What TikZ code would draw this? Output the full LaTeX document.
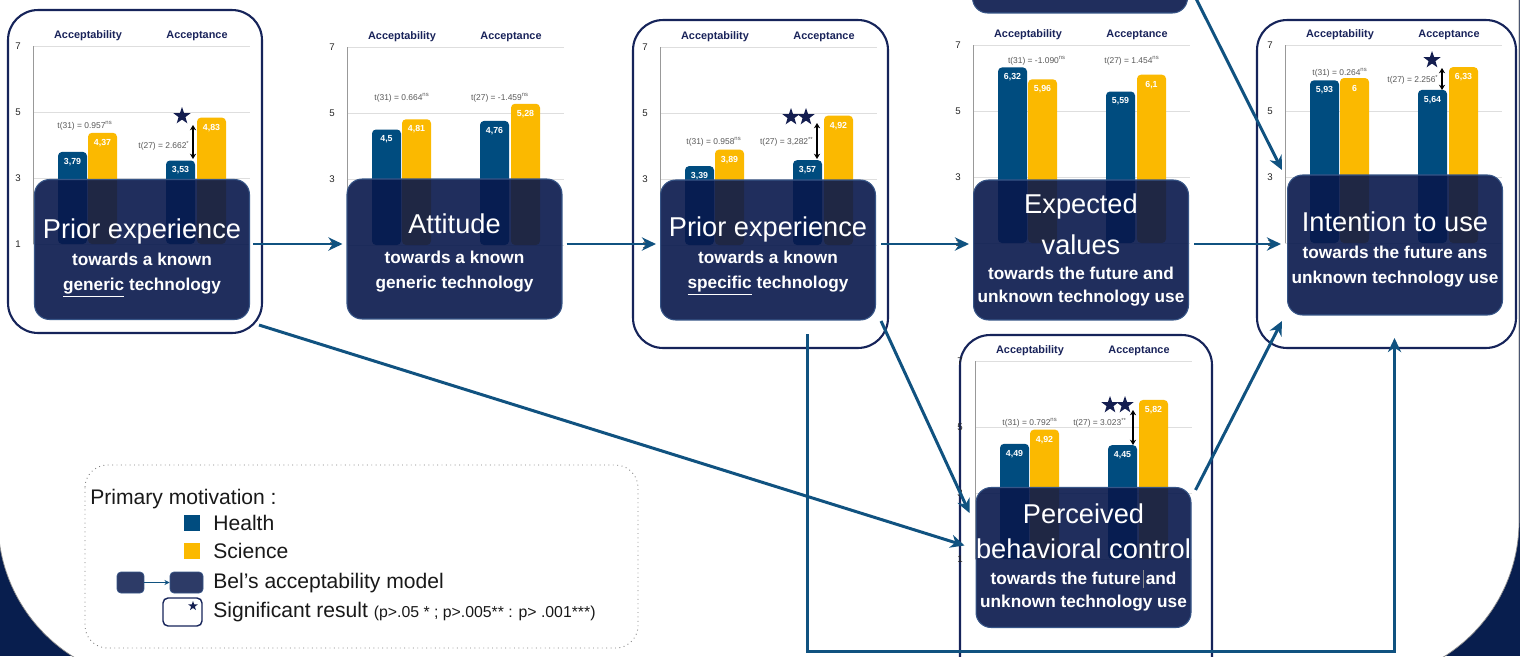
\documentclass[tikz,border=0pt]{standalone}
\usepackage{fontspec}
\setmainfont{Liberation Sans}
\usetikzlibrary{positioning,calc,arrows.meta,shapes.geometric}

\definecolor{bgnavy}{RGB}{8,30,78}
\definecolor{boxnavy}{RGB}{8,24,76}
\definecolor{boxedge}{RGB}{55,85,135}
\definecolor{health}{RGB}{0,76,127}
\definecolor{science}{RGB}{251,185,0}
\definecolor{flowblue}{RGB}{16,82,128}
\definecolor{framenavy}{RGB}{22,36,90}
\definecolor{headnavy}{RGB}{25,35,90}
\definecolor{starnavy}{RGB}{20,30,80}

\newcommand{\titlefont}{\fontsize{15.5}{18}\selectfont\mdseries}
\newcommand{\lift}[1]{\rule{0pt}{#1}}

\tikzset{
  chartframe/.style={draw=framenavy, line width=1.2pt, fill=white, rounded corners=0.6cm},
  stage/.style={fill=boxnavy, fill opacity=0.9, text opacity=1, draw=boxedge, line width=0.6pt,
    rounded corners=0.3cm, text=white, align=center, minimum width=4.3cm, minimum height=2.8cm,
    inner sep=0pt, font=\fontsize{9.8}{14.2}\selectfont\bfseries},
  gridline/.style={draw=black!13, line width=0.5pt},
  axisline/.style={draw=black!40, line width=0.5pt},
  axisnum/.style={font=\fontsize{5.5}{6}\selectfont, text=black!85, inner sep=0pt},
  charthead/.style={font=\fontsize{6.2}{7}\selectfont\bfseries, text=headnavy, inner sep=0pt},
  barval/.style={font=\fontsize{5}{6}\selectfont\bfseries, text=white, inner sep=0pt},
  tval/.style={font=\fontsize{4.8}{6}\selectfont, text=black!65, inner sep=0pt},
  sigstar/.style={star, star points=5, star point ratio=2.5, fill=starnavy, inner sep=0pt, minimum size=0.36cm},
  twohead/.style={<->, >={Stealth[length=3pt,width=3.5pt]}, line width=0.7pt},
  flow/.style={->, line width=1.7pt, draw=flowblue},
  legtext/.style={font=\fontsize{12}{14}\selectfont, anchor=west, inner sep=0pt, text=black!90},
  keysq/.style={inner sep=0pt, minimum size=0.32cm},
  minibox/.style={fill=boxnavy!85!white, draw=boxedge, line width=0.4pt, rounded corners=0.08cm, inner sep=0pt, minimum height=0.42cm},
}

% name, axis x, line-1 y, health/science values
\newcommand{\barchart}[7]{%
  \foreach \v in {1,3,5,7}{
    \draw[gridline] (#2,{#3-(\v-1)*33}) -- ++(217,0);
    \node[axisnum] (#1-y\v) at (#2-15,{#3-(\v-1)*33}) {\v};
  }
  \draw[axisline] (#2,#3) -- ++(0,-198);
  \node[charthead] (#1-h1) at (#2+55,#3-208) {Acceptability};
  \node[charthead] (#1-h2) at (#2+164,#3-208) {Acceptance};
  \foreach \dx/\val/\col in {25/#4/health,55/#5/science,133/#6/health,164/#7/science}{
    \fill[\col, rounded corners=0.08cm] (#2+\dx,#3) rectangle ({#2+\dx+29},{#3-(\val-1)*33});
    \node[barval] (#1-b\dx) at ({#2+\dx+14.5},{#3-(\val-1)*33+10})
      {\pgfmathprintnumber[fixed,use comma,assume math mode=true]{\val}};
  }
}

\begin{document}
\begin{tikzpicture}[x=0.02cm, y=-0.02cm, >={Stealth[length=8pt,width=7.5pt]}]
  \useasboundingbox (0,0) rectangle (1520,656);
  \clip (0,0) rectangle (1520,656);

  % background
  \fill[bgnavy] (0,0) rectangle (1520,656);
  \filldraw[fill=white, draw=black!45, line width=0.4pt, rounded corners=3.2cm] (-2,-300) rectangle (1519,681);

  % frames
  \node[chartframe, minimum width=5.08cm, minimum height=6.46cm] (f1) at (135,171.5) {};
  \node[chartframe, minimum width=5.1cm, minimum height=6.56cm] (f3) at (760.5,184) {};
  \node[chartframe, minimum width=5.18cm, minimum height=6.56cm] (f5) at (1386.5,184) {};
  \node[chartframe, minimum width=5.04cm, minimum height=7.3cm] (f6) at (1086,517.5) {};

  % charts
  \barchart{g1}{33}{244}{3.79}{4.37}{3.53}{4.83}
  \barchart{g2}{347}{245}{4.5}{4.81}{4.76}{5.28}
  \barchart{g3}{660}{245}{3.39}{3.89}{3.57}{4.92}
  \barchart{g4}{973}{243}{6.32}{5.96}{5.59}{6.1}
  \barchart{g5}{1285}{243}{5.93}{6}{5.64}{6.33}
  \barchart{g6}{975}{559}{4.49}{4.92}{4.45}{5.82}

  % tests
  \node[tval] (t1a) at (85,126) {t(31) = 0.957\textsuperscript{ns}};
  \node[tval, anchor=east] (t1b) at (190,146) {t(27) = 2.662\textsuperscript{*}};
  \draw[twohead] (193,125) -- (193,159);
  \node[sigstar] (s1) at (182,116) {};

  \node[tval] (t2a) at (402,98) {t(31) = 0.664\textsuperscript{ns}};
  \node[tval] (t2b) at (500,98) {t(27) = -1.459\textsuperscript{ns}};

  \node[tval] (t3a) at (714,142) {t(31) = 0.958\textsuperscript{ns}};
  \node[tval, anchor=east] (t3b) at (814,142) {t(27) = 3,282\textsuperscript{**}};
  \draw[twohead] (817,123) -- (817,159);
  \node[sigstar] (s3a) at (791,117) {};
  \node[sigstar] (s3b) at (806,117) {};

  \node[tval] (t4a) at (1037,61) {t(31) = -1.090\textsuperscript{ns}};
  \node[tval] (t4b) at (1132,61) {t(27) = 1.454\textsuperscript{ns}};

  \node[tval] (t5a) at (1340,73) {t(31) = 0.264\textsuperscript{ns}};
  \node[tval, anchor=east] (t5b) at (1439,80) {t(27) = 2.256\textsuperscript{*}};
  \draw[twohead] (1442,68) -- (1442,90);
  \node[sigstar] (s5) at (1432,60) {};

  \node[tval] (t6a) at (1030,423) {t(31) = 0.792\textsuperscript{ns}};
  \node[tval] (t6b) at (1100,423) {t(27) = 3.023\textsuperscript{**}};
  \draw[twohead] (1133,410) -- (1133,445);
  \node[sigstar] (s6a) at (1110,405) {};
  \node[sigstar] (s6b) at (1125,405) {};

  % stages
  \node[stage] (b0) at (1080,-57) {};
  \node[stage] (b1) at (142,249.5) {{\titlefont\lift{21pt}Prior experience}\\[1.1pt] towards a known\\ \underline{generic} technology};
  \node[stage] (b2) at (454.5,249) {{\titlefont\lift{16pt}Attitude}\\[2.8pt] towards a known\\ generic technology};
  \node[stage] (b3) at (768,250) {{\titlefont\lift{18.5pt}Prior experience}\\[1.1pt] towards a known\\ \underline{specific} technology};
  \node[stage] (b4) at (1081,250) {{\titlefont Expected}\\[7.5pt] {\titlefont values}\\ towards the future and\\[-1pt] unknown technology use};
  \node[stage] (b5) at (1395,245) {{\titlefont\lift{16.5pt}Intention to use}\\[1.1pt] towards the future ans\\ unknown technology use};
  \node[stage] (b6) at (1083.5,557.5) {{\titlefont Perceived}\\[5.6pt] {\titlefont behavioral control}\\[0.5pt]
    towards the future\hspace{1pt}{\color{black!45}\rule[-2pt]{0.4pt}{10pt}}\hspace{1.5pt}and\\[-1pt] unknown technology use};

  % links
  \draw[flow] ($(b1.east)+(3,-5.5)$) -- ($(b2.west)+(-4,-5)$);
  \draw[flow] ($(b2.east)+(4,-5)$) -- ($(b3.west)+(-4,-6)$);
  \draw[flow] ($(b3.east)+(5,-6)$) -- ($(b4.west)+(-4,-6)$);
  \draw[flow] ($(b4.east)+(5,-6)$) -- ($(b5.west)+(-6,-1)$);
  \draw[flow] ($(f1.south east)+(-4,-9)$) -- ($(b6.west)+(-11,-12)$);
  \draw[flow] ($(f3.south east)+(-8,-28)$) -- ($(b6.north west)+(-6,26)$);
  \draw[flow] ($(f3.south)+(47,-15)$) -- ++(0,317) -| ($(f5.south)+(8,-11)$);
  \draw[flow] ($(b6.north east)+(4,3)$) -- ($(f5.south west)+(26,-28)$);
  \draw[flow] ($(b0.south east)+(8,-15)$) -- ($(f5.west)+(26,-14)$);

  % legend
  \draw[dotted, draw=black!50, line width=0.5pt, rounded corners=0.45cm] (85,465) rectangle (638,648);
  \node[legtext] (lg0) at (90,499) {Primary motivation :};
  \node[keysq, fill=health] (k1) at (192,523) {};
  \node[legtext] (lg1) at (213,523) {Health};
  \node[keysq, fill=science] (k2) at (192,551) {};
  \node[legtext] (lg2) at (213,551) {Science};
  \node[minibox, minimum width=0.54cm] (k3) at (130.5,582.5) {};
  \node[minibox, minimum width=0.66cm] (k4) at (186.5,582.5) {};
  \draw[->, >={Stealth[length=3pt,width=3pt]}, draw=flowblue, line width=0.8pt] (k3) -- (k4);
  \node[legtext] (lg3) at (213,583) {Bel’s acceptability model};
  \node[draw=framenavy, line width=0.8pt, fill=white, rounded corners=0.1cm, inner sep=0pt,
    minimum width=0.78cm, minimum height=0.56cm] (k5) at (182.5,612) {};
  \node[sigstar, minimum size=0.2cm] (k6) at (193,606) {};
  \node[legtext] (lg4) at (213,612) {Significant result {\fontsize{9}{10}\selectfont (p>.05 * ; p>.005** : p> .001***)}};
\end{tikzpicture}
\end{document}
